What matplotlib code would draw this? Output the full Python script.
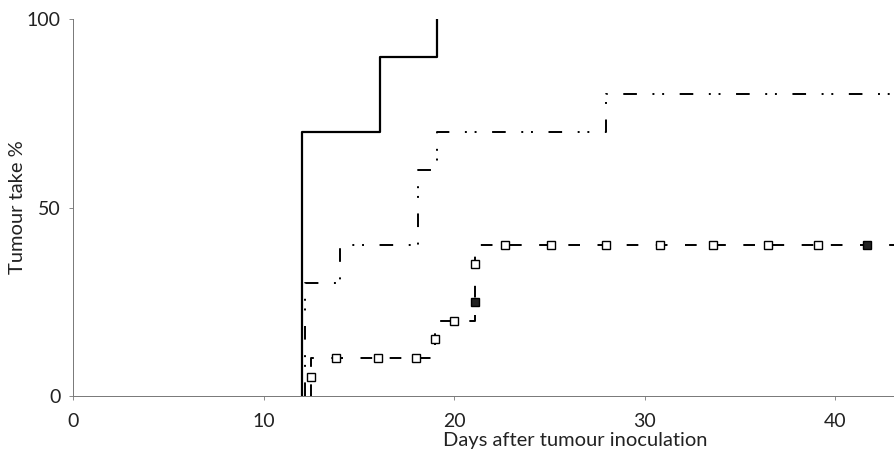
import matplotlib.pyplot as plt

# Cumulative tumour take (%) against days after inoculation, three groups
solid_days = [12.0, 12.0, 16.1, 19.1]
solid_take = [0, 70, 90, 100]

dashdot_days = [12.2, 12.2, 14.0, 18.1, 19.1, 28.0, 43.2]
dashdot_take = [0, 30, 40, 60, 70, 80, 80]

square_days = [12.5, 12.5, 19.0, 21.1, 43.2]
square_take = [0, 10, 20, 40, 40]

# individual animals plotted as open squares along the dashed curve
marker_days = [12.5, 13.8, 16.0, 18.0, 19.0, 20.0, 21.1, 22.7, 25.1, 28.0,
               30.8, 33.6, 36.5, 39.1]
marker_take = [5, 10, 10, 10, 15, 20, 35, 40, 40, 40, 40, 40, 40, 40]
filled_days = [21.1, 41.7]
filled_take = [25, 40]

x_ticks = [0, 10, 20, 30, 40]
y_ticks = [0, 50, 100]

plt.rcParams["font.family"] = ["Lato", "DejaVu Sans"]

fig = plt.figure(figsize=(8.95, 4.53), dpi=100)
ax = fig.add_axes([0.0816, 0.1258, 0.9184, 0.8322])

ax.step(solid_days, solid_take, where="post", color="black", linewidth=1.6)
ax.step(dashdot_days, dashdot_take, where="post", color="black", linewidth=1.4,
        linestyle=(0, (7, 8, 1, 4, 1, 8)))
ax.step(square_days, square_take, where="post", color="black", linewidth=1.4,
        linestyle=(0, (6, 9)))
ax.plot(marker_days, marker_take, linestyle="none", marker="s", markersize=5.5,
        markerfacecolor="white", markeredgecolor="black", markeredgewidth=1.0,
        zorder=5)
ax.plot(filled_days, filled_take, linestyle="none", marker="s", markersize=5.5,
        markerfacecolor="#222222", markeredgecolor="black", markeredgewidth=1.0,
        zorder=5)

ax.set_xlim(0, 43.15)
ax.set_ylim(0, 100)
ax.set_xticks(x_ticks)
ax.set_yticks(y_ticks)
ax.tick_params(axis="both", direction="out", length=3, width=0.6,
               color="#777777", labelsize=14, labelcolor="#222222")
ax.tick_params(axis="x", pad=9)
ax.tick_params(axis="y", pad=6)

for side in ("top", "right"):
    ax.spines[side].set_visible(False)
for side in ("left", "bottom"):
    ax.spines[side].set_color("#777777")
    ax.spines[side].set_linewidth(0.7)

fig.text(0.019, 0.543, "Tumour take %", rotation=90, ha="center", va="center",
         fontsize=14.5, color="#222222")
fig.text(0.643, 0.028, "Days after tumour inoculation", ha="center",
         va="center", fontsize=14.5, color="#222222")

fig.savefig("out.png", dpi=100, facecolor="white")
